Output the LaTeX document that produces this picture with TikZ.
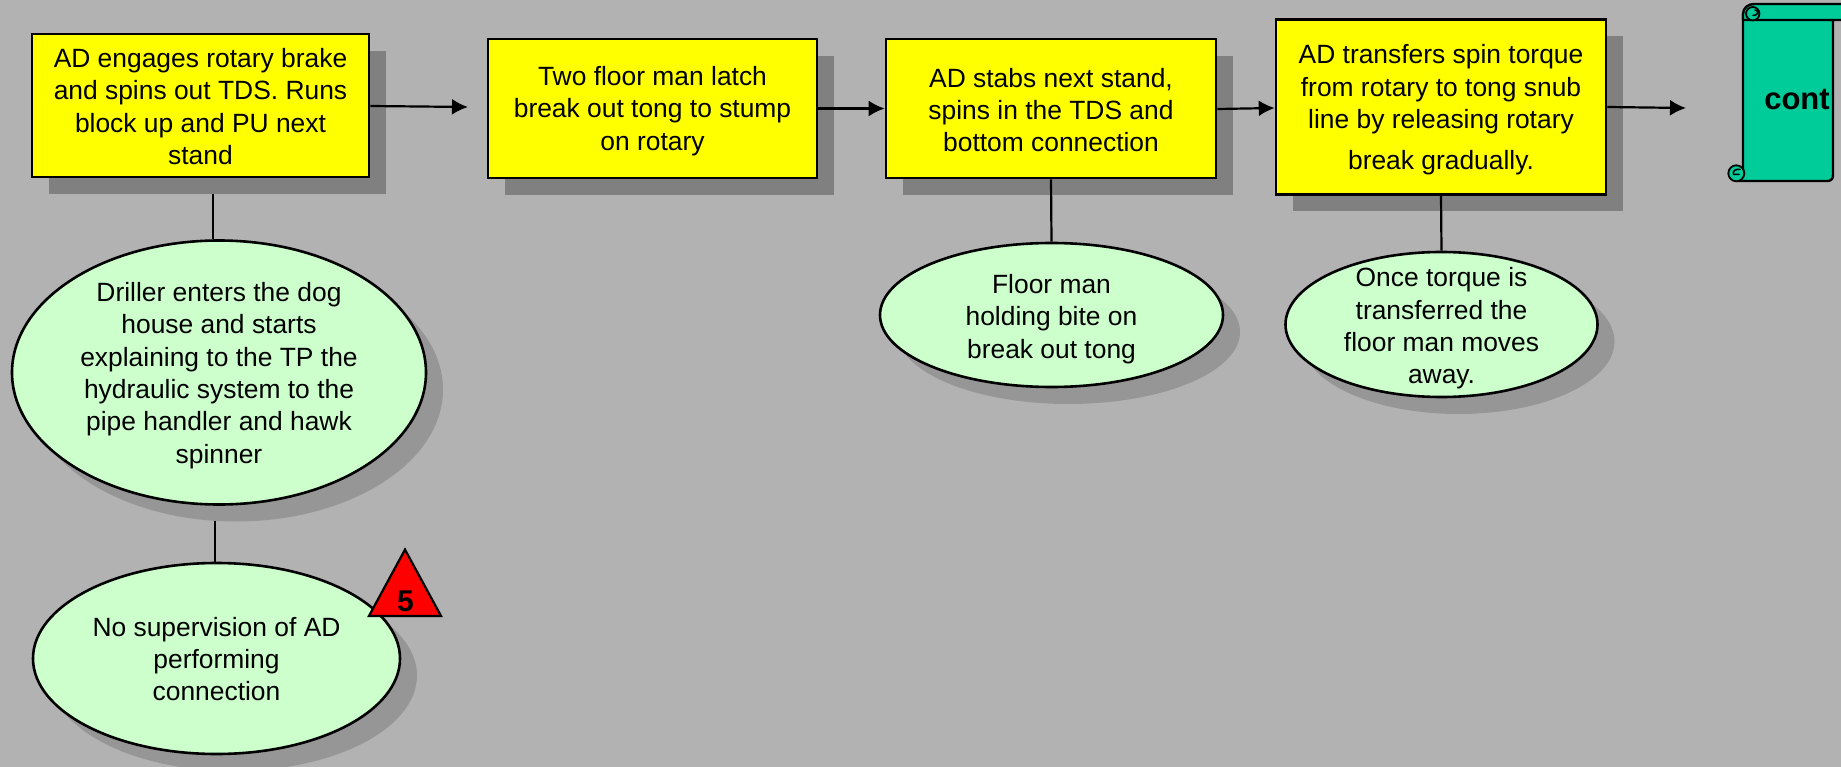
\documentclass[tikz,border=0pt]{standalone}
\usepackage{fontspec}
\setmainfont{Liberation Sans}
\usetikzlibrary{shapes.geometric,shadows,arrows.meta}
\definecolor{bgc}{HTML}{B2B2B2}
\definecolor{boxy}{HTML}{FFFF00}
\definecolor{ell}{HTML}{CCFFCC}
\definecolor{scr}{HTML}{00CC99}
\definecolor{shrect}{HTML}{808080}
\definecolor{shell}{HTML}{969696}
\pgfdeclarelayer{paper}
\pgfdeclarelayer{links}
\pgfsetlayers{paper,links,main}
\tikzset{
  x=1pt,y=-1pt,
  txt/.style={font=\fontsize{26.4}{32.3}\selectfont,align=center,text=black,inner sep=0pt},
  stepbox/.style={draw=black,line width=2.6pt,fill=boxy,rectangle,inner sep=0pt,
    general shadow={fill=shrect,shadow xshift=17pt,shadow yshift=-17pt}},
  oval/.style={draw=black,line width=2.6pt,fill=ell,ellipse,inner sep=0pt,
    general shadow={fill=shell,shadow xshift=17pt,shadow yshift=-17pt}},
  flow/.style={draw=black,line width=2.2pt,-{Latex[length=16pt,width=16pt]}},
  link/.style={draw=black,line width=2.2pt},
  scrollpart/.style={draw=black,line width=2.4pt,fill=scr,line join=round},
  curlring/.style={draw=black,line width=1.8pt,fill=scr},
  curl/.style={draw=black,line width=1.5pt,line cap=round},
}
% x, y, w, h, name, text centre y, text
\newcommand{\bx}[7]{\node[stepbox,minimum width=#3 pt,minimum height=#4 pt] (#5) at (#1,#2) {};
  \node[txt] (#5t) at (#1,#6) {#7};}
\newcommand{\ov}[7]{\node[oval,minimum width=#3 pt,minimum height=#4 pt] (#5) at (#1,#2) {};
  \node[txt] (#5t) at (#1,#6) {#7};}
\begin{document}
\begin{tikzpicture}
\useasboundingbox (0,0) rectangle (1841,767);
\begin{pgfonlayer}{paper}
\fill[bgc] (0,0) rectangle (1841,767);
\end{pgfonlayer}
\bx{200.5}{105.5}{337}{143}{b1}{106.5}{AD engages rotary brake\\and spins out TDS. Runs\\block up and PU next\\stand}
\bx{652.5}{108.5}{329}{139}{b2}{111}{Two floor man latch\\break out tong to stump\\on rotary}
\bx{1051}{108.5}{330}{139}{b3}{110}{AD stabs next stand,\\spins in the TDS and\\bottom connection}
\bx{1441}{107}{330}{175}{b4}{110}{AD transfers spin torque\\from rotary to tong snub\\line by releasing rotary\\[9pt]break gradually.}
\ov{219}{372.5}{414}{264}{e1}{375.5}{Driller enters the dog\\house and starts\\explaining to the TP the\\hydraulic system to the\\pipe handler and hawk\\spinner}
\ov{216.5}{658.5}{367}{191}{e2}{659}{No supervision of AD\\performing\\connection}
\ov{1051.5}{315}{343}{144}{e3}{319}{Floor man\\holding bite on\\break out tong}
\ov{1441.5}{324.5}{312}{145}{e4}{328.5}{Once torque is\\transferred the\\floor man moves\\away.}
\begin{pgfonlayer}{links}
\draw[link] (b1.south -| 213,0) -- (e1.north -| 213,0);
\draw[link] (e1.south -| 215,0) -- (e2.north -| 215,0);
\end{pgfonlayer}
\draw[link] (b3.south) -- (e3.north);
\draw[link] (b4.south) -- (e4.north);
\coordinate (t1) at (468,107);
\coordinate (f1) at (1686,108);
\draw[flow] (b1.east |- 0,106) -- (t1);
\draw[flow] (b2) -- (b3);
\draw[flow] (b3.east |- 0,109) -- (b4.west |- 0,108);
\draw[flow] (b4.east |- 0,107) -- (f1);
\node[isosceles triangle,isosceles triangle apex angle=57,shape border rotate=90,draw=black,line width=2.2pt,fill=red,inner sep=0pt,minimum height=66pt,minimum width=72pt,anchor=south] (tri) at (405,617) {};
\node[font=\fontsize{30}{32}\selectfont\bfseries,inner sep=0pt] (five) at (405.5,601) {5};
% scroll
\path[scrollpart] (1743,14) -- (1743,172) -- (1737,181) -- (1827,181) .. controls (1831,181) and (1833,179) .. (1833,175) -- (1833,20) -- cycle;
\path[scrollpart] (1850,20) -- (1743,20) -- (1743,14) .. controls (1743,8) and (1748,4) .. (1754,4) -- (1850,4) -- cycle;
\draw[curlring] (1752.7,13.7) circle (6.7);
\draw[curl] (1753,15.5) -- (1755.5,15) .. controls (1758.5,14) and (1758.5,10.5) .. (1755,10);
\draw[curlring] (1736.3,173.3) circle (8);
\draw[curl] (1740,169.5) .. controls (1736,168.5) and (1732,171) .. (1733.5,174.5) -- (1739,174.5);
\node[font=\fontsize{31}{32}\selectfont\bfseries,text=black,inner sep=0pt] (cont) at (1797,100) {cont};
\end{tikzpicture}
\end{document}
